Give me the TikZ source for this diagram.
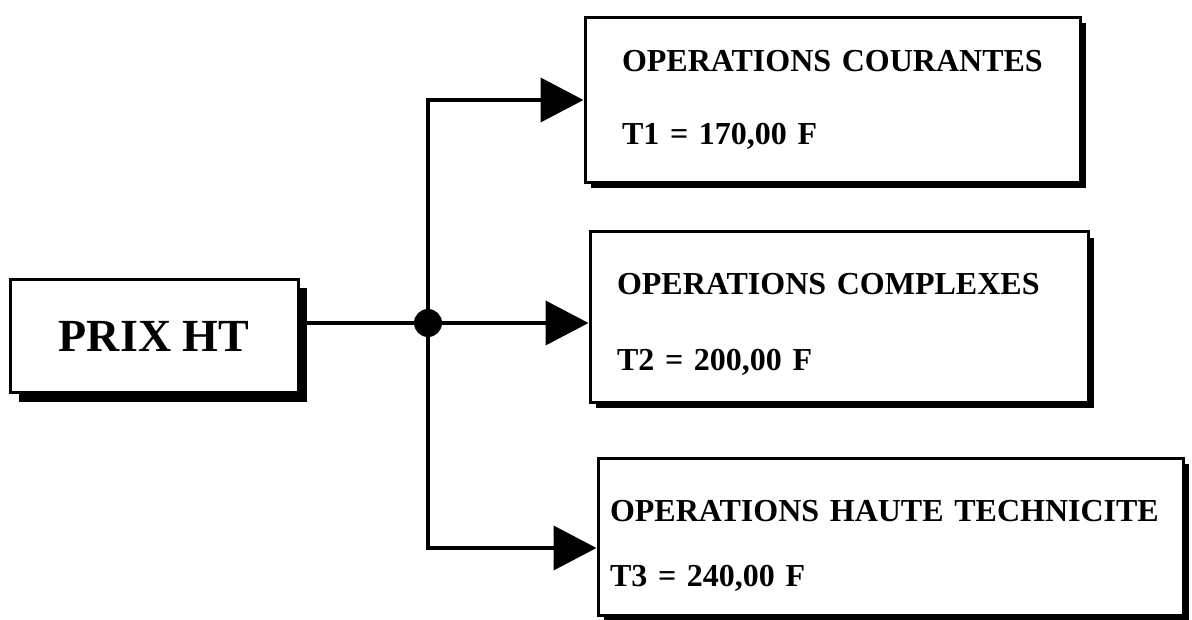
\documentclass[tikz,border=0pt]{standalone}
\usepackage{fontspec}
\setmainfont{Liberation Serif}
\usepackage{tikz}
\usetikzlibrary{arrows.meta}
\usetikzlibrary{shadows}

\begin{document}
\begin{tikzpicture}[x=1pt,y=-1pt,
    fil/.style={line width=4pt},
    fleche/.style={-{Triangle[length=43pt,width=44pt]}},
    tarif/.style={draw,line width=3pt,fill=white,align=left,
      font=\fontsize{32}{40}\selectfont\bfseries,
      general shadow={fill=black,shadow xshift=6pt,shadow yshift=-6pt}}]
  \useasboundingbox (0,0) rectangle (1192,620);
  % price box on the left
  \node[draw,line width=3pt,fill=white,minimum width=288pt,minimum height=113pt,
    font=\fontsize{46}{50}\selectfont\bfseries,
    general shadow={fill=black,shadow xshift=9pt,shadow yshift=-9pt}]
    (prix) at (154,336) {PRIX HT};
  \node[circle,fill=black,minimum size=28pt,inner sep=0pt] (jonction) at (428,323) {};
  % the three rates
  \node[tarif,inner xsep=37pt,text width=421pt,minimum height=165pt]
    (courantes) at (832.5,100)
    {OPERATIONS COURANTES\\[33pt]T1 = 170,00 F};
  \node[tarif,inner xsep=27pt,text width=444pt,minimum height=170pt]
    (complexes) at (839,317)
    {\rule{0pt}{36pt}OPERATIONS COMPLEXES\\[36pt]T2 = 200,00 F};
  \node[tarif,inner xsep=12pt,text width=561pt,minimum height=157pt]
    (technicite) at (890.5,536.5)
    {\rule{0pt}{40pt}OPERATIONS HAUTE TECHNICITE\\[25pt]T3 = 240,00 F};
  % connectors
  \draw[fil] (prix.east |- jonction) -- (jonction);
  \draw[fil,fleche] (jonction) |- (courantes.west);
  \draw[fil,fleche] (jonction) -- (jonction -| complexes.west);
  \draw[fil,fleche] (jonction) |- ([yshift=-11.5pt]technicite.west);
\end{tikzpicture}
\end{document}
